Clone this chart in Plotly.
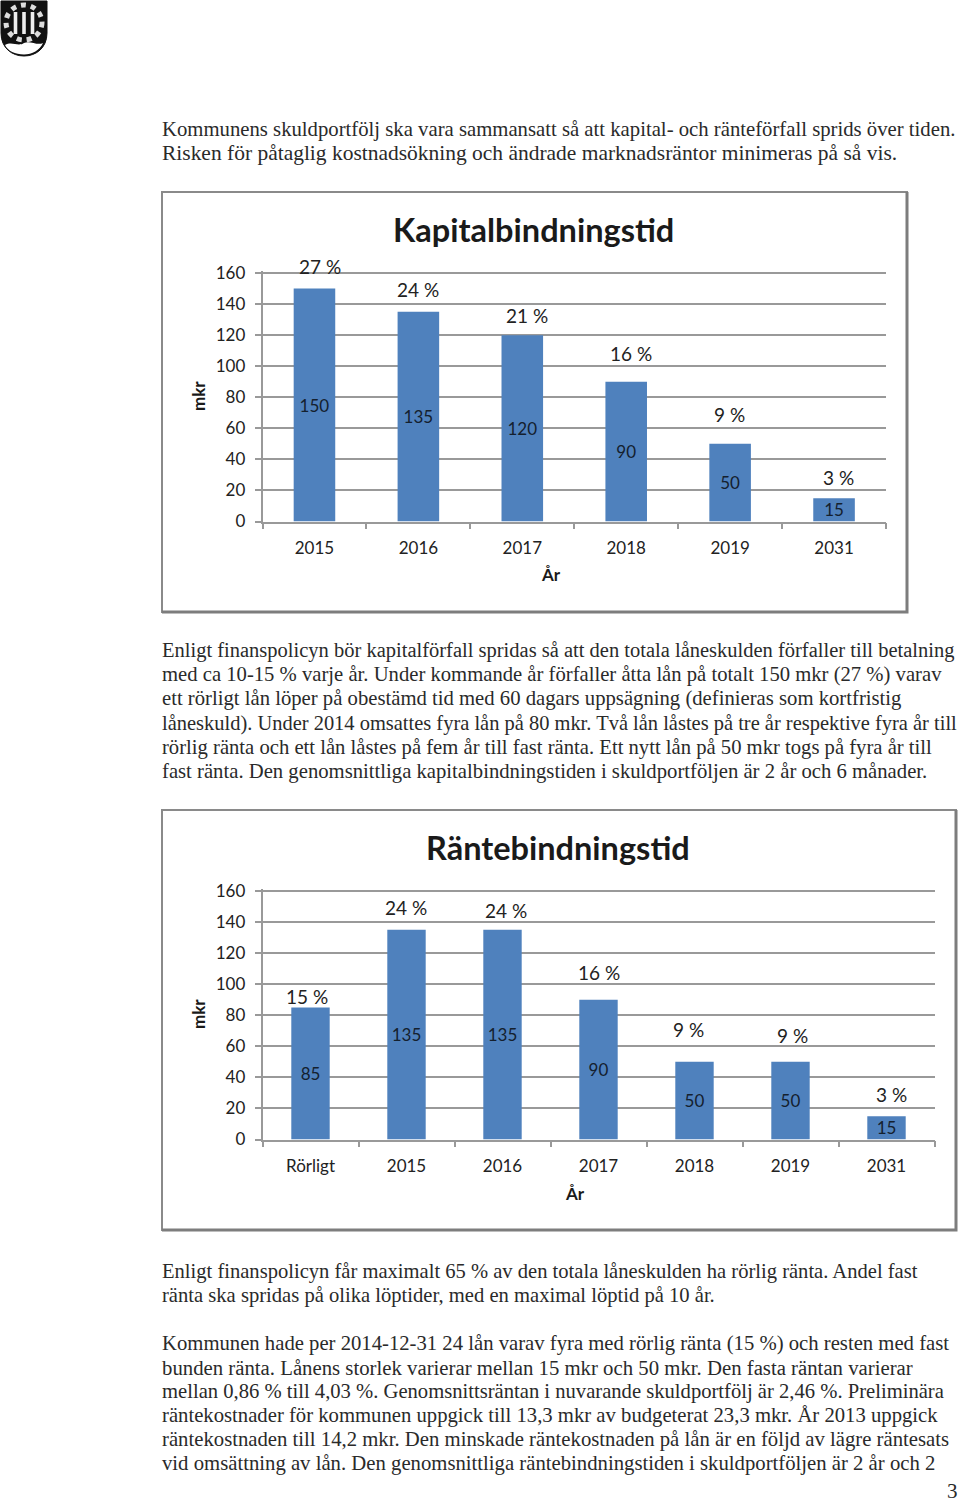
import plotly.graph_objects as go

W, H = 960, 1505

kap_years = ['2015', '2016', '2017', '2018', '2019', '2031']
kap_values = [150, 135, 120, 90, 50, 15]
kap_pct = ['27 %', '24 %', '21 %', '16 %', '9 %', '3 %']

ranta_years = ['Rörligt', '2015', '2016', '2017', '2018', '2019', '2031']
ranta_values = [85, 135, 135, 90, 50, 50, 15]
ranta_pct = ['15 %', '24 %', '24 %', '16 %', '9 %', '9 %', '3 %']

y_ticks = [0, 20, 40, 60, 80, 100, 120, 140, 160]

para_1 = [
    'Kommunens skuldportfölj ska vara sammansatt så att kapital- och ränteförfall sprids över tiden.',
    'Risken för påtaglig kostnadsökning och ändrade marknadsräntor minimeras på så vis.',
]
para_2 = [
    'Enligt finanspolicyn bör kapitalförfall spridas så att den totala låneskulden förfaller till betalning',
    'med ca 10-15 % varje år. Under kommande år förfaller åtta lån på totalt 150 mkr (27 %) varav',
    'ett rörligt lån löper på obestämd tid med 60 dagars uppsägning (definieras som kortfristig',
    'låneskuld). Under 2014 omsattes fyra lån på 80 mkr. Två lån låstes på tre år respektive fyra år till',
    'rörlig ränta och ett lån låstes på fem år till fast ränta. Ett nytt lån på 50 mkr togs på fyra år till',
    'fast ränta. Den genomsnittliga kapitalbindningstiden i skuldportföljen är 2 år och 6 månader.',
]
para_3 = [
    'Enligt finanspolicyn får maximalt 65 % av den totala låneskulden ha rörlig ränta. Andel fast',
    'ränta ska spridas på olika löptider, med en maximal löptid på 10 år.',
]
para_4 = [
    'Kommunen hade per 2014-12-31 24 lån varav fyra med rörlig ränta (15 %) och resten med fast',
    'bunden ränta. Lånens storlek varierar mellan 15 mkr och 50 mkr. Den fasta räntan varierar',
    'mellan 0,86 % till 4,03 %. Genomsnittsräntan i nuvarande skuldportfölj är 2,46 %. Preliminära',
    'räntekostnader för kommunen uppgick till 13,3 mkr av budgeterat 23,3 mkr. År 2013 uppgick',
    'räntekostnaden till 14,2 mkr. Den minskade räntekostnaden på lån är en följd av lägre räntesats',
    'vid omsättning av lån. Den genomsnittliga räntebindningstiden i skuldportföljen är 2 år och 2',
]

CHART_FONT = 'Lato, sans-serif'
TEXT_FONT = 'Liberation Serif, serif'
BLUE = '#4F81BD'
GRID = '#999999'

# font size per printed line, so each line ends where the original does
sizes_1 = [20.72, 21.47]
sizes_2 = [20.5, 20.67, 20.69, 20.47, 20.65, 20.7]
sizes_3 = [20.57, 20.6]
sizes_4 = [20.69, 20.77, 20.62, 20.7, 20.72, 20.73]


def px(x):
    return x / W


def py(y):
    return 1 - y / H


fig = go.Figure()
annotations = []
shapes = []


def page_text(text, x, y, size=20.5, family=TEXT_FONT, color='#2a2a2a', bold=False, anchor='left', angle=0):
    annotations.append(dict(
        text=f'<b>{text}</b>' if bold else text,
        xref='paper', yref='paper', x=px(x), y=py(y),
        xanchor=anchor, yanchor='middle', showarrow=False, textangle=angle,
        font=dict(family=family, size=size, color=color),
    ))


def frame(x0, y0, x1, y1):
    shapes.append(dict(type='rect', xref='paper', yref='paper', layer='below',
                       x0=px(x0), x1=px(x1), y0=py(y0), y1=py(y1),
                       fillcolor='white', line=dict(color='#8a8a8a', width=2)))
    # heavier edge at right and bottom
    shapes.append(dict(type='path', xref='paper', yref='paper', layer='below',
                       path=f'M {px(x0)} {py(y1)} L {px(x1)} {py(y1)} L {px(x1)} {py(y0)}',
                       line=dict(color='#7d7d7d', width=3)))


def bar_chart(n, cats, vals, pct, x0, x1, y_top, y_zero, pct_shift):
    xa, ya = f'x{n}', f'y{n}'
    fig.add_trace(go.Bar(
        x=cats, y=vals, xaxis=xa, yaxis=ya, width=0.4,
        marker=dict(color=BLUE, line=dict(width=0)),
        text=[str(v) for v in vals], textposition='inside', insidetextanchor='middle',
        textangle=0, constraintext='none',
        textfont=dict(family=CHART_FONT, size=17, color='#14202e'),
        showlegend=False,
    ))
    axis_line = dict(showline=True, linecolor=GRID, linewidth=1.5, ticks='outside',
                     tickcolor=GRID, ticklen=6, tickwidth=1.5,
                     tickfont=dict(family=CHART_FONT, size=17, color='#222'))
    # range runs a hair past 160 so the top gridline is kept
    fig.update_layout({
        f'xaxis{n}': dict(domain=[px(x0), px(x1)], anchor=ya, type='category', tickson='boundaries',
                          categoryorder='array', categoryarray=cats, tickangle=0,
                          showgrid=False, ticklabelstandoff=10, **axis_line),
        f'yaxis{n}': dict(domain=[py(y_zero), py(y_top - 1.55)], anchor=xa, range=[0, 161], tickvals=y_ticks,
                          showgrid=True, gridcolor=GRID, gridwidth=1.5, zeroline=False,
                          ticklabelstandoff=6, **axis_line),
    })
    # annotations on a category axis are placed by category index
    for i, (v, p, (dx, dy)) in enumerate(zip(vals, pct, pct_shift)):
        annotations.append(dict(
            text=p, xref=xa, yref=ya, x=i, y=v, xshift=dx, yshift=dy,
            showarrow=False, xanchor='center', yanchor='middle',
            font=dict(family=CHART_FONT, size=19, color='#222'),
        ))


frame(162, 192, 907, 612)
frame(162, 810, 956, 1230)

bar_chart('', kap_years, kap_values, kap_pct, 262.5, 886, 273, 521.5,
          [(6, 22), (0, 22), (5, 20), (5, 28), (-1, 29), (4, 21)])
bar_chart('2', ranta_years, ranta_values, ranta_pct, 262.5, 934.5, 891, 1139.5,
          [(-4, 11), (-1, 22), (3, 19), (0, 27), (-6, 32), (2, 26), (5, 22)])

page_text('Kapitalbindningstid', 533.5, 229, size=32.5, family=CHART_FONT, color='#1a1a1a', bold=True, anchor='center')
page_text('Räntebindningstid', 558, 847, size=32.5, family=CHART_FONT, color='#1a1a1a', bold=True, anchor='center')
page_text('År', 551, 575, size=17, family=CHART_FONT, color='#1a1a1a', bold=True, anchor='center')
page_text('År', 575, 1193, size=17, family=CHART_FONT, color='#1a1a1a', bold=True, anchor='center')
page_text('mkr', 198, 396, size=17, family=CHART_FONT, color='#1a1a1a', bold=True, anchor='center', angle=-90)
page_text('mkr', 198, 1014, size=17, family=CHART_FONT, color='#1a1a1a', bold=True, anchor='center', angle=-90)

# body text, one annotation per printed line
for lines, line_sizes, first_y in [(para_1, sizes_1, 129), (para_2, sizes_2, 651),
                                   (para_3, sizes_3, 1271), (para_4, sizes_4, 1343)]:
    for i, (line, size) in enumerate(zip(lines, line_sizes)):
        page_text(line, 160, first_y + i * 24, size=size)
page_text('3', 960, 1491, size=21, anchor='right')

# municipal shield in the corner
shapes.append(dict(type='path', xref='paper', yref='paper', fillcolor='#111', line=dict(color='#111', width=1),
                   path=f'M {px(1)} {py(1)} L {px(47)} {py(1)} L {px(47)} {py(33)} '
                        f'C {px(47)} {py(48)} {px(36)} {py(56)} {px(24)} {py(56)} '
                        f'C {px(12)} {py(56)} {px(1)} {py(48)} {px(1)} {py(33)} Z'))
shapes.append(dict(type='path', xref='paper', yref='paper', fillcolor='white', line=dict(width=0),
                   path=f'M {px(5)} {py(45)} C {px(12)} {py(41)} {px(18)} {py(47)} {px(24)} {py(43)} '
                        f'C {px(30)} {py(40)} {px(37)} {py(46)} {px(43)} {py(43)} '
                        f'C {px(40)} {py(50)} {px(32)} {py(54.5)} {px(24)} {py(54.5)} '
                        f'C {px(15)} {py(54.5)} {px(8)} {py(51)} {px(5)} {py(45)} Z'))
shapes.append(dict(type='circle', xref='paper', yref='paper', fillcolor='rgba(0,0,0,0)',
                   line=dict(color='#dddddd', width=5, dash='dot'),
                   x0=px(6), x1=px(42), y0=py(40), y1=py(5)))
for cx in (15.5, 24, 32.5):
    shapes.append(dict(type='rect', xref='paper', yref='paper', fillcolor='#eee', line=dict(width=0),
                       x0=px(cx - 1.8), x1=px(cx + 1.8), y0=py(34), y1=py(12)))

fig.update_layout(
    width=W, height=H, margin=dict(l=0, r=0, t=0, b=0, autoexpand=False),
    paper_bgcolor='white', plot_bgcolor='rgba(0,0,0,0)',
    annotations=annotations, shapes=shapes,
)

fig.write_html('out.html', post_script="document.body.style.margin='0';",
               config=dict(displayModeBar=False))
